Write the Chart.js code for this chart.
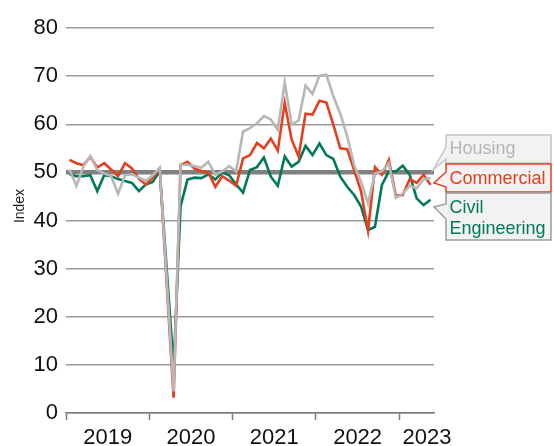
<!DOCTYPE html>
<html>
<head>
<meta charset="utf-8">
<script src="https://cdn.jsdelivr.net/npm/chart.js@4/dist/chart.umd.min.js"></script>
<style>
  html, body { margin: 0; padding: 0; background: #fff; }
  #wrap { width: 554px; height: 446px; }
</style>
</head>
<body>
<div id="wrap"><canvas id="myChart" width="554" height="446"></canvas></div>
<script>
// monthly index readings, Jan 2019 - May 2023
var months = [
    'Jan 2019', 'Feb 2019', 'Mar 2019', 'Apr 2019', 'May 2019', 'Jun 2019', 'Jul 2019', 'Aug 2019', 'Sep 2019', 'Oct 2019', 'Nov 2019', 'Dec 2019',
    'Jan 2020', 'Feb 2020', 'Mar 2020', 'Apr 2020', 'May 2020', 'Jun 2020', 'Jul 2020', 'Aug 2020', 'Sep 2020', 'Oct 2020', 'Nov 2020', 'Dec 2020',
    'Jan 2021', 'Feb 2021', 'Mar 2021', 'Apr 2021', 'May 2021', 'Jun 2021', 'Jul 2021', 'Aug 2021', 'Sep 2021', 'Oct 2021', 'Nov 2021', 'Dec 2021',
    'Jan 2022', 'Feb 2022', 'Mar 2022', 'Apr 2022', 'May 2022', 'Jun 2022', 'Jul 2022', 'Aug 2022', 'Sep 2022', 'Oct 2022', 'Nov 2022', 'Dec 2022',
    'Jan 2023', 'Feb 2023', 'Mar 2023', 'Apr 2023', 'May 2023'
];

var housing = [
    50.6, 47.2, 51.2, 53.4, 50.5, 49.8, 49.2, 45.6, 49.4, 49.6, 48.9, 48.2,
    49.4, 51.0, 28.0, 4.5, 51.6, 51.6, 51.3, 51.0, 52.2, 49.5, 50.2, 51.3,
    50.2, 58.5, 59.2, 60.2, 61.7, 61.0, 58.8, 68.7, 59.9, 60.8, 68.0, 66.3,
    70.1, 70.3, 65.8, 62.2, 57.5, 51.5, 48.0, 43.5, 49.8, 50.2, 51.9, 44.7,
    45.6, 47.2, 46.7, 48.6, 48.8
];

var commercial = [
    52.6, 51.9, 51.5, 53.2, 51.0, 51.9, 50.6, 49.2, 51.9, 50.8, 48.7, 47.5,
    48.9, 50.8, 27.0, 3.2, 51.5, 52.2, 50.8, 50.3, 50.0, 47.0, 49.2, 48.3,
    47.2, 52.9, 53.6, 56.1, 55.0, 57.0, 54.5, 64.4, 56.8, 53.3, 62.2, 62.0,
    64.9, 64.5, 59.9, 55.0, 54.8, 50.5, 46.0, 37.9, 51.1, 49.5, 52.6, 45.2,
    45.3, 48.6, 47.8, 49.5, 47.4
];

var civil = [
    49.6, 49.2, 49.2, 49.4, 46.1, 49.4, 49.2, 48.6, 48.2, 47.8, 46.1, 47.5,
    48.0, 50.3, 30.0, 9.5, 43.0, 48.5, 48.9, 48.8, 49.6, 48.5, 50.0, 49.4,
    47.5, 45.8, 50.5, 51.1, 53.1, 49.1, 47.2, 53.3, 51.2, 52.2, 55.5, 53.6,
    56.0, 53.6, 52.8, 49.1, 47.0, 45.3, 42.9, 38.0, 38.7, 47.4, 50.2, 50.2,
    51.4, 49.5, 44.6, 43.2, 44.3
];

var yearLabels = ['2019', '2020', '2021', '2022', '2023'];
var yearLabelAt = [6, 18, 30, 42, 52];   // month offset where each year label sits
var yearStarts = [0, 12, 24, 36, 48];    // month offsets of year boundary ticks
var yTicks = [0, 10, 20, 30, 40, 50, 60, 70, 80];

var RED = '#e2401f';
var GREEN = '#007a5a';
var GREY = '#b7b7b7';

// each month is plotted in the middle of its slot
function toPoints(arr) {
    return arr.map(function (v, i) { return { x: i + 0.5, y: v }; });
}

var callouts = {
    id: 'callouts',
    afterDatasetsDraw: function (chart) {
        var ctx = chart.ctx;
        ctx.save();
        ctx.font = '18px "Liberation Sans", Arial, sans-serif';
        ctx.textBaseline = 'middle';
        ctx.lineWidth = 1.5;

        var boxes = [
            { top: 135, bottom: 163, baseA: 147, baseB: 159, tipX: 433, tipY: 170, fill: '#f2f2f2', stroke: '#c4c4c4', color: '#b5b5b5', lines: ['Housing'], ys: [149] },
            { top: 164, bottom: 192, baseA: 172, baseB: 187, tipX: 434, tipY: 183, fill: '#f2f2f2', stroke: RED, color: RED, lines: ['Commercial'], ys: [179] },
            { top: 193, bottom: 240, baseA: 204, baseB: 219, tipX: 434, tipY: 207, fill: '#f2f2f2', stroke: '#9c9c9c', color: GREEN, lines: ['Civil', 'Engineering'], ys: [208, 229] }
        ];
        var left = 446, right = 551;

        boxes.forEach(function (b) {
            ctx.beginPath();
            ctx.moveTo(left, b.top);
            ctx.lineTo(right, b.top);
            ctx.lineTo(right, b.bottom);
            ctx.lineTo(left, b.bottom);
            ctx.lineTo(left, b.baseB);
            ctx.lineTo(b.tipX, b.tipY);
            ctx.lineTo(left, b.baseA);
            ctx.closePath();
            ctx.fillStyle = b.fill;
            ctx.fill();
            ctx.strokeStyle = b.stroke;
            ctx.stroke();

            ctx.fillStyle = b.color;
            ctx.textAlign = 'left';
            b.lines.forEach(function (t, k) {
                ctx.fillText(t, 449.5, b.ys[k]);
            });
        });

        // y axis title
        ctx.translate(20, 206);
        ctx.rotate(-Math.PI / 2);
        ctx.font = '14px "Liberation Sans", Arial, sans-serif';
        ctx.fillStyle = '#1a1a1a';
        ctx.textAlign = 'center';
        ctx.fillText('Index', 0, 0);
        ctx.restore();
    }
};

var ctx = document.getElementById('myChart').getContext('2d');
var chart = new Chart(ctx, {
    type: 'line',
    data: {
        datasets: [{
            label: 'Housing',
            borderColor: GREY,
            data: toPoints(housing)
        }, {
            label: 'Commercial',
            borderColor: RED,
            data: toPoints(commercial)
        }, {
            label: 'Civil Engineering',
            borderColor: GREEN,
            data: toPoints(civil)
        }]
    },
    options: {
        responsive: false,
        animation: false,
        layout: { padding: { top: 28, right: 120, bottom: 0, left: 0 } },
        elements: {
            line: { borderWidth: 2.6, tension: 0, fill: false },
            point: { radius: 0 }
        },
        plugins: {
            legend: { display: false },
            tooltip: { enabled: false }
        },
        scales: {
            x: {
                type: 'linear',
                min: 0,
                max: months.length,
                afterBuildTicks: function (scale) {
                    var vals = yearStarts.concat(yearLabelAt).sort(function (a, b) { return a - b; });
                    scale.ticks = vals.map(function (v) { return { value: v }; });
                },
                afterFit: function (scale) { scale.height = 33; },
                ticks: {
                    autoSkip: false,
                    maxRotation: 0,
                    padding: 5,
                    color: '#111',
                    font: { family: '"Liberation Sans", Arial, sans-serif', size: 22 },
                    callback: function (value) {
                        var k = yearLabelAt.indexOf(value);
                        return k >= 0 ? yearLabels[k] : '';
                    }
                },
                grid: {
                    drawOnChartArea: false,
                    drawTicks: true,
                    tickLength: 7,
                    tickWidth: 1.5,
                    tickColor: function (c) {
                        return (c.tick && yearStarts.indexOf(c.tick.value) >= 0) ? '#7a7a7a' : 'rgba(0,0,0,0)';
                    }
                },
                border: { display: true, color: '#7a7a7a', width: 1.5 }
            },
            y: {
                min: 0,
                max: 80,
                afterBuildTicks: function (scale) {
                    scale.ticks = yTicks.map(function (v) { return { value: v }; });
                },
                afterFit: function (scale) { scale.width = 66; },
                ticks: {
                    padding: 8,
                    color: '#111',
                    font: { family: '"Liberation Sans", Arial, sans-serif', size: 22 }
                },
                grid: {
                    drawTicks: false,
                    color: function (c) { return c.tick && c.tick.value === 50 ? '#808080' : '#9a9a9a'; },
                    lineWidth: function (c) { return c.tick && c.tick.value === 50 ? 4.5 : 1.5; }
                },
                border: { display: false }
            }
        }
    },
    plugins: [callouts]
});
</script>
</body>
</html>
